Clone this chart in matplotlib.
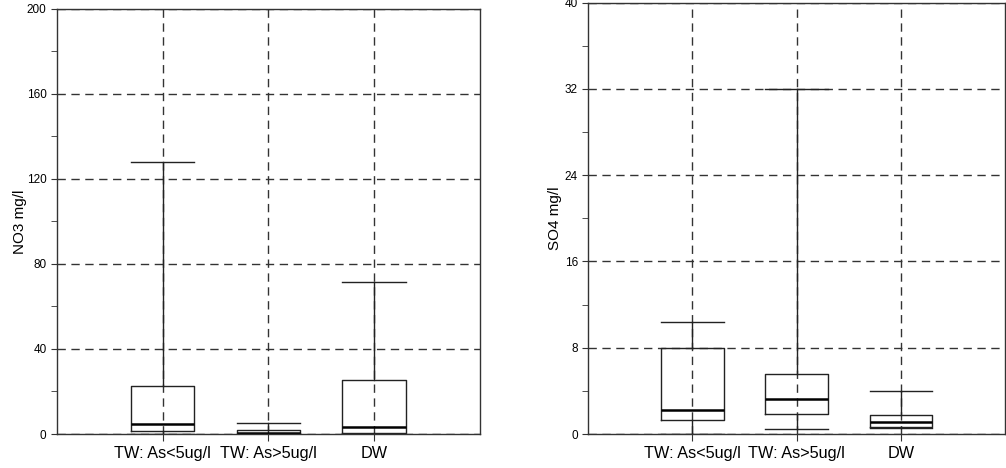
import matplotlib
matplotlib.use('Agg')
from matplotlib import pyplot as plt
from matplotlib.ticker import MultipleLocator

plt.rcParams['font.family'] = ['Liberation Sans', 'DejaVu Sans']

groups = ['TW: As<5ug/l', 'TW: As>5ug/l', 'DW']

# NO3 mg/l : lower whisker, Q1, median, Q3, upper whisker
no3_low = [0.0, 0.0, 0.0]
no3_q1 = [1.4, 0.2, 0.6]
no3_med = [4.7, 0.6, 3.5]
no3_q3 = [22.7, 1.9, 25.6]
no3_high = [128.0, 5.0, 71.5]

# SO4 mg/l
so4_low = [0.0, 0.43, 0.6]
so4_q1 = [1.33, 1.88, 0.62]
so4_med = [2.25, 3.25, 1.14]
so4_q3 = [8.0, 5.53, 1.73]
so4_high = [10.36, 32.0, 4.02]


def stats(lo, q1, med, q3, hi):
    return [dict(whislo=lo[i], q1=q1[i], med=med[i], q3=q3[i], whishi=hi[i],
                 fliers=[], label=groups[i]) for i in range(len(groups))]


fig = plt.figure(figsize=(10.06, 4.68), dpi=100)
ax1 = fig.add_axes([0.0567, 0.0726, 0.4203, 0.9088])
ax2 = fig.add_axes([0.5848, 0.0726, 0.4142, 0.9216])

panels = [
    (ax1, stats(no3_low, no3_q1, no3_med, no3_q3, no3_high), 'NO3 mg/l', 200, 40, 20, 0),
    (ax2, stats(so4_low, so4_q1, so4_med, so4_q3, so4_high), 'SO4 mg/l', 40, 8, 4, 2),
]

for ax, st, ylab, ymax, major, minor, pad in panels:
    ax.bxp(st, positions=[1, 2, 3], widths=0.6, capwidths=0.6, showfliers=False,
           boxprops=dict(color='#222222', linewidth=1.0),
           whiskerprops=dict(color='#222222', linewidth=1.0),
           capprops=dict(color='#222222', linewidth=1.0),
           medianprops=dict(color='black', linewidth=1.8))
    ax.set_xlim(0, 4)
    ax.set_ylim(0, ymax)
    ax.yaxis.set_major_locator(MultipleLocator(major))
    ax.yaxis.set_minor_locator(MultipleLocator(minor))
    ax.grid(True, which='major', linestyle=(0, (6, 4)), color='#333333', linewidth=1.0)
    ax.set_axisbelow(True)
    ax.set_ylabel(ylab, fontsize=11, labelpad=pad)
    ax.tick_params(axis='y', which='both', direction='out', labelsize=8.5, length=4, color='#333333')
    ax.tick_params(axis='x', direction='out', labelsize=11.7, length=5, color='#333333')
    for s in ax.spines.values():
        s.set_color('#333333')
        s.set_linewidth(1.0)

fig.savefig('out.png', dpi=100)
